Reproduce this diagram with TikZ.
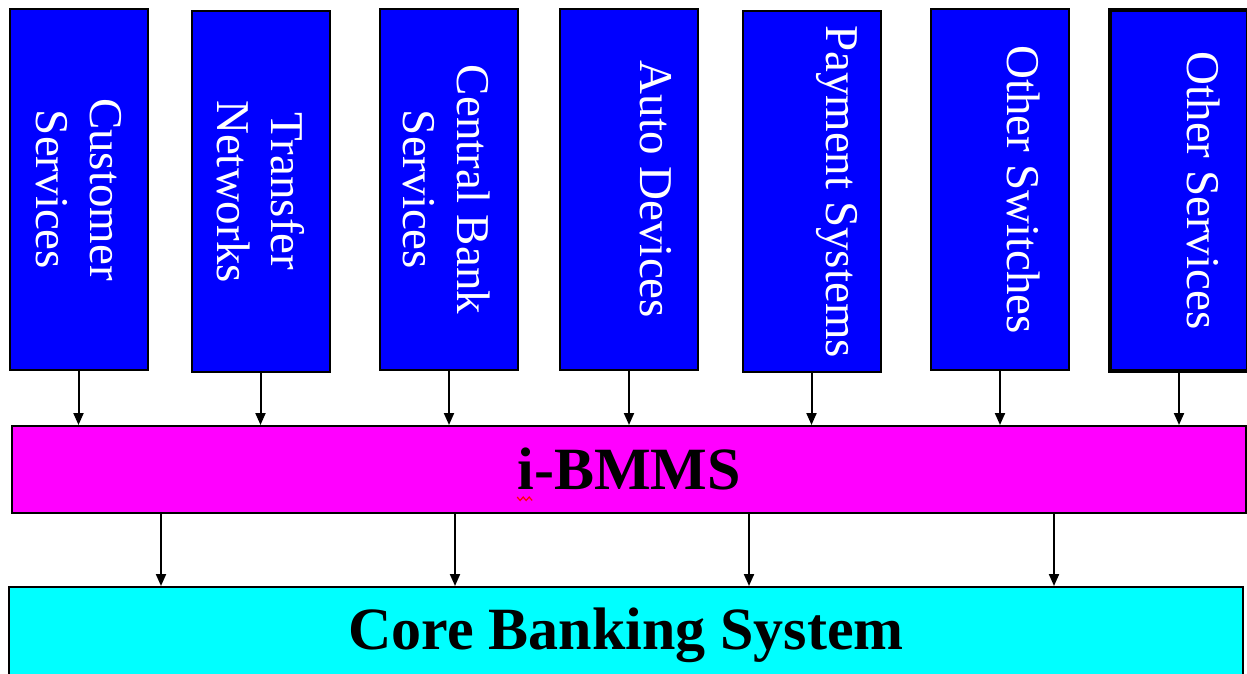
\documentclass[tikz,border=0pt]{standalone}
\usepackage{fontspec}
\setmainfont{Liberation Serif}
\usetikzlibrary{arrows.meta}
\definecolor{svcblue}{RGB}{0,0,255}
\definecolor{bmmspink}{RGB}{255,0,255}
\definecolor{corecyan}{RGB}{0,255,255}
\tikzset{
  svc/.style={draw, fill=svcblue, line width=2pt, minimum width=138pt,
    minimum height=361pt, inner sep=0pt},
  svctext/.style={rotate=-90, align=center, text=white, inner sep=0pt,
    font=\fontsize{47}{54}\selectfont},
  bar/.style={draw, line width=2pt, minimum width=1234pt,
    minimum height=87pt, inner sep=0pt},
  bartext/.style={anchor=base, inner sep=0pt,
    font=\fontsize{60}{66}\selectfont\bfseries},
  feed/.style={line width=2pt, -{Triangle[length=12pt,width=10pt]}}
}
\begin{document}
\begin{tikzpicture}[x=1pt,y=-1pt]
\useasboundingbox (0,0) rectangle (1247,673);
% service boxes
\node[svc] (cust) at (78.5,189.5) {};
\node[svc] (trans) at (260.5,191.5) {};
\node[svc] (cbank) at (449,189.5) {};
\node[svc] (auto) at (629,189.5) {};
\node[svc] (pay) at (811.5,191.5) {};
\node[svc] (sw) at (1000,189.5) {};
\node[svc, line width=3.5pt] (other) at (1179,190.5) {};
\node[svctext] (cust-t) at (cust.center) {Customer\\Services};
\node[svctext] (trans-t) at (trans.center) {Transfer\\Networks};
\node[svctext] (cbank-t) at ([xshift=-2pt]cbank.center) {Central Bank\\Services};
\node[svctext] (auto-t) at ([xshift=27pt]auto.center) {Auto Devices};
\node[svctext] (pay-t) at ([xshift=25pt]pay.center) {Payment Systems};
\node[svctext] (sw-t) at ([xshift=24pt]sw.center) {Other Switches};
\node[svctext] (other-t) at ([xshift=25pt]other.center) {Other Services};
% middle and core bars
\node[bar, fill=bmmspink] (bmms) at (629,469.5) {};
\node[bartext] (bmms-t) at ([yshift=-19.5pt]bmms.center) {i-BMMS};
\draw[red, line width=1.2pt] ([yshift=-8pt]bmms-t.base west)
  -- ++(3,3.5) -- ++(3,-3.5) -- ++(3,3.5) -- ++(3,-3.5) -- ++(3,3.5);
\node[bar, fill=corecyan, minimum height=88pt] (core) at (626,631) {};
\node[bartext] (core-t) at ([yshift=-18pt]core.center) {Core Banking System};
% services into i-BMMS
\draw[feed] (cust.south) -- (cust.south |- bmms.north);
\draw[feed] (trans.south) -- (trans.south |- bmms.north);
\draw[feed] (cbank.south) -- (cbank.south |- bmms.north);
\draw[feed] (auto.south) -- (auto.south |- bmms.north);
\draw[feed] (pay.south) -- (pay.south |- bmms.north);
\draw[feed] (sw.south) -- (sw.south |- bmms.north);
\draw[feed] (other.south) -- (other.south |- bmms.north);
% i-BMMS into core
\coordinate (d1) at (161,0);
\coordinate (d2) at (455,0);
\coordinate (d3) at (749,0);
\coordinate (d4) at (1054,0);
\draw[feed] (d1 |- bmms.south) -- (d1 |- core.north);
\draw[feed] (d2 |- bmms.south) -- (d2 |- core.north);
\draw[feed] (d3 |- bmms.south) -- (d3 |- core.north);
\draw[feed] (d4 |- bmms.south) -- (d4 |- core.north);
\end{tikzpicture}
\end{document}
